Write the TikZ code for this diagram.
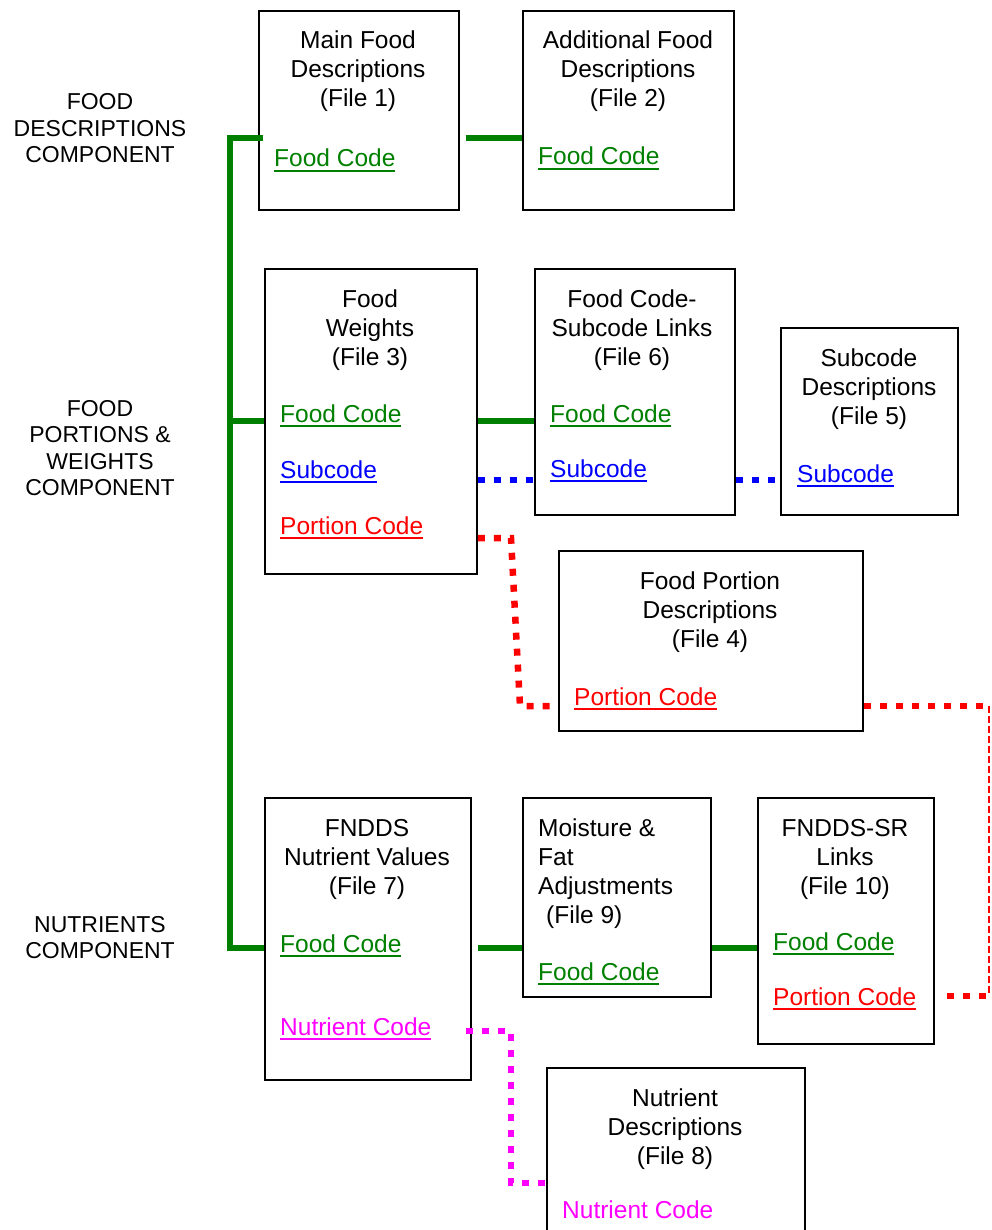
\documentclass[tikz,border=0pt]{standalone}
\usepackage{fontspec}
\setmainfont{Liberation Sans}
\usetikzlibrary{calc}
\definecolor{fgreen}{RGB}{0,128,0}
\definecolor{fblue}{RGB}{0,0,255}
\definecolor{fred}{RGB}{255,0,0}
\definecolor{fmag}{RGB}{255,0,255}
\newcommand\ulx[1]{\vtop{\hbox{#1}\kern2.6pt\hrule height 1.8pt}}
\tikzset{
  box/.style={draw=black, line width=1.8pt, rectangle, inner sep=0pt, anchor=north west},
  txt/.style={inner sep=0pt, anchor=base, font=\fontsize{24.5}{29}\selectfont},
  ltxt/.style={txt, anchor=base west},
  side/.style={inner sep=0pt, anchor=base, font=\fontsize{23}{26.5}\selectfont},
  gline/.style={draw=fgreen, line width=6.5pt, line join=miter},
  bdot/.style={draw=fblue, line width=6.5pt, dash pattern=on 7pt off 9pt},
  rdot/.style={draw=fred, line width=6.5pt, dash pattern=on 7pt off 9pt},
  mdot/.style={draw=fmag, line width=6.5pt, dash pattern=on 7pt off 9pt},
  rdash/.style={draw=fred, line width=2pt, dash pattern=on 7pt off 3pt},
}
\begin{document}
\begin{tikzpicture}[x=1pt,y=-1pt]
\useasboundingbox (0,0) rectangle (991,1230);

% boxes
\node[box, minimum width=200pt, minimum height=199pt] (b1) at (258,10) {};
\node[box, minimum width=211pt, minimum height=199pt] (b2) at (522,10) {};
\node[box, minimum width=212pt, minimum height=305pt] (b3) at (264,268) {};
\node[box, minimum width=200pt, minimum height=246pt] (b6) at (534,268) {};
\node[box, minimum width=177pt, minimum height=187pt] (b5) at (780,327) {};
\node[box, minimum width=304pt, minimum height=180pt] (b4) at (558,550) {};
\node[box, minimum width=206pt, minimum height=282pt] (b7) at (264,797) {};
\node[box, minimum width=188pt, minimum height=199pt] (b9) at (522,797) {};
\node[box, minimum width=176pt, minimum height=246pt] (b10) at (757,797) {};
\node[box, minimum width=258pt, minimum height=200pt] (b8) at (546,1067) {};

% side labels
\node[side] (s1a) at (100,110) {FOOD};
\node[side] (s1b) at (100,136.5) {DESCRIPTIONS};
\node[side] (s1c) at (100,163) {COMPONENT};
\node[side] (s2a) at (100,416) {FOOD};
\node[side] (s2b) at (100,442.5) {PORTIONS \&};
\node[side] (s2c) at (100,469) {WEIGHTS};
\node[side] (s2d) at (100,495.5) {COMPONENT};
\node[side] (s3a) at (100,932) {NUTRIENTS};
\node[side] (s3b) at (100,958.5) {COMPONENT};

% box 1
\node[txt] (t1a) at (358,49) {Main Food};
\node[txt] (t1b) at (358,78) {Descriptions};
\node[txt] (t1c) at (358,107) {(File 1)};
\node[ltxt, text=fgreen] (t1d) at (274,167) {\ulx{Food Code}};
% box 2
\node[txt] (t2a) at (628,49) {Additional Food};
\node[txt] (t2b) at (628,78) {Descriptions};
\node[txt] (t2c) at (628,107) {(File 2)};
\node[ltxt, text=fgreen] (t2d) at (538,165) {\ulx{Food Code}};
% box 3
\node[txt] (t3a) at (370,307) {Food};
\node[txt] (t3b) at (370,336) {Weights};
\node[txt] (t3c) at (370,365) {(File 3)};
\node[ltxt, text=fgreen] (t3d) at (280,422) {\ulx{Food Code}};
\node[ltxt, text=fblue] (t3e) at (280,478) {\ulx{Subcode}};
\node[ltxt, text=fred] (t3f) at (280,534) {\ulx{Portion Code}};
% box 6
\node[txt] (t6a) at (632,307) {Food Code-};
\node[txt] (t6b) at (632,336) {Subcode Links};
\node[txt] (t6c) at (632,365) {(File 6)};
\node[ltxt, text=fgreen] (t6d) at (550,422) {\ulx{Food Code}};
\node[ltxt, text=fblue] (t6e) at (550,477) {\ulx{Subcode}};
% box 5
\node[txt] (t5a) at (869,366) {Subcode};
\node[txt] (t5b) at (869,395) {Descriptions};
\node[txt] (t5c) at (869,424) {(File 5)};
\node[ltxt, text=fblue] (t5d) at (797,482) {\ulx{Subcode}};
% box 4
\node[txt] (t4a) at (710,589) {Food Portion};
\node[txt] (t4b) at (710,618) {Descriptions};
\node[txt] (t4c) at (710,647) {(File 4)};
\node[ltxt, text=fred] (t4d) at (574,705) {\ulx{Portion Code}};
% box 7
\node[txt] (t7a) at (367,836) {FNDDS};
\node[txt] (t7b) at (367,865) {Nutrient Values};
\node[txt] (t7c) at (367,894) {(File 7)};
\node[ltxt, text=fgreen] (t7d) at (280,952) {\ulx{Food Code}};
\node[ltxt, text=fmag] (t7e) at (280,1035) {\ulx{Nutrient Code}};
% box 9
\node[ltxt] (t9a) at (538,836) {Moisture \&};
\node[ltxt] (t9b) at (538,865) {Fat};
\node[ltxt] (t9c) at (538,894) {Adjustments};
\node[ltxt] (t9d) at (546,923) {(File 9)};
\node[ltxt, text=fgreen] (t9e) at (538,980) {\ulx{Food Code}};
% box 10
\node[txt] (t10a) at (845,836) {FNDDS-SR};
\node[txt] (t10b) at (845,865) {Links};
\node[txt] (t10c) at (845,894) {(File 10)};
\node[ltxt, text=fgreen] (t10d) at (773,950) {\ulx{Food Code}};
\node[ltxt, text=fred] (t10e) at (773,1005) {\ulx{Portion Code}};
% box 8
\node[txt] (t8a) at (675,1106) {Nutrient};
\node[txt] (t8b) at (675,1135) {Descriptions};
\node[txt] (t8c) at (675,1164) {(File 8)};
\node[ltxt, text=fmag] (t8d) at (562,1218) {Nutrient Code};

% junction coordinates
\coordinate (gtop) at (230,138);
\coordinate (gmid) at (230,421);
\coordinate (gbot) at (230,948);
\coordinate (by) at (0,480);
\coordinate (r1) at (511,538);
\coordinate (r2) at (520,706);
\coordinate (r3) at (989,706);
\coordinate (r4) at (989,996);
\coordinate (m1) at (511,1031);
\coordinate (m2) at (511,1183);

% green connectors
\draw[gline] ($(b1.west |- gtop)+(5,0)$) -- (gtop) -- (gbot) -- (b7.west |- gbot);
\draw[gline] (gmid) -- (b3.west |- gmid);
\draw[gline] ($(b1.east |- gtop)+(6,0)$) -- (b2.west |- gtop);
\draw[gline] (b3.east |- gmid) -- (b6.west |- gmid);
\draw[gline] ($(b7.east |- gbot)+(6,0)$) -- (b9.west |- gbot);
\draw[gline] (b9.east |- gbot) -- (b10.west |- gbot);

% blue connectors
\draw[bdot] (b3.east |- by) -- (b6.west |- by);
\draw[bdot] (b6.east |- by) -- (b5.west |- by);

% red connectors
\draw[rdot] (b3.east |- r1) -- (r1) -- (r2) -- (b4.west |- r2);
\draw[rdot] (b4.east |- r2) -- (r3);
\draw[rdash] (r3) -- (r4);
\draw[rdot] ($(b10.east |- r4)+(12,0)$) -- (r4);

% magenta connector
\draw[mdot] ($(b7.east |- m1)+(-6,0)$) -- (m1) -- (m2) -- (b8.west |- m2);
\end{tikzpicture}
\end{document}
